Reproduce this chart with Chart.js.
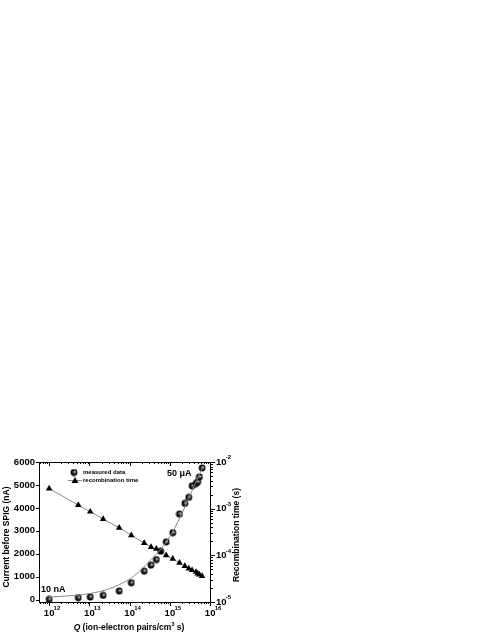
<!DOCTYPE html>
<html>
<head>
<meta charset="utf-8">
<script src="https://cdn.jsdelivr.net/npm/chart.js@4.4.1/dist/chart.umd.min.js"></script>
<style>
    html, body { margin: 0; padding: 0; background: #fff; }
</style>
</head>
<body>
<canvas id="chart" width="491" height="635"></canvas>
<script>
// ===== Data =====
// Q in ion-electron pairs / cm^3 s
const qValues = [1.0e12, 5.3e12, 1.05e13, 2.2e13, 5.5e13, 1.1e14, 2.3e14, 3.4e14, 4.6e14, 5.9e14,
                 8.1e14, 1.18e15, 1.73e15, 2.35e15, 2.95e15, 3.57e15, 4.47e15, 4.9e15, 5.4e15, 6.3e15];
// current before SPIG (nA)
const currentValues = [12, 87, 117, 187, 377, 738, 1245, 1505, 1748, 2113,
                       2516, 2920, 3731, 4195, 4456, 4959, 5063, 5132, 5349, 5740];
// recombination time (s)
const recombValues = [2.7e-3, 1.19e-3, 8.6e-4, 6.0e-4, 3.9e-4, 2.69e-4, 1.84e-4, 1.51e-4, 1.38e-4, 1.22e-4,
                      1.0e-4, 8.4e-5, 6.9e-5, 5.9e-5, 5.2e-5, 4.8e-5, 4.4e-5, 4.07e-5, 3.88e-5, 3.59e-5];
// fitted curve through the measured current
const fitQ = [1e12, 3.16e12, 1e13, 3.16e13, 1e14, 1.78e14, 3.16e14, 5.62e14, 1e15, 1.78e15, 3.16e15, 6.3e15];
const fitI = [115, 170, 265, 480, 900, 1250, 1700, 2150, 2750, 3580, 4550, 5720];

const xTickExps = ["12", "13", "14", "15", "16"];
const yTicksLeft = [0, 1000, 2000, 3000, 4000, 5000, 6000];
const yTickExpsRight = ["-2", "-3", "-4", "-5"];

const FONT = '"Liberation Sans", Arial, sans-serif';
const BASE_FONT = "bold 9.5px " + FONT;
const EXP_FONT = "bold 6px " + FONT;

// ===== shaded sphere marker =====
function makeSphere(r) {
    const c = document.createElement("canvas");
    const s = Math.ceil(r * 2) + 1;
    c.width = s; c.height = s;
    const g = c.getContext("2d");
    const grad = g.createRadialGradient(s / 2 + r * 0.3, s / 2 - r * 0.25, 0.2, s / 2, s / 2, r);
    grad.addColorStop(0, "#e6e6e6");
    grad.addColorStop(0.3, "#5a5a5a");
    grad.addColorStop(0.65, "#111");
    grad.addColorStop(1, "#000");
    g.fillStyle = grad;
    g.beginPath();
    g.arc(s / 2, s / 2, r, 0, Math.PI * 2);
    g.fill();
    return c;
}
const sphere = makeSphere(3.4);

function pts(xs, ys) {
    return xs.map((x, i) => ({ x: x, y: ys[i] }));
}

// "10" with a superscript exponent
function drawPow(ctx, exp, x, y, centered) {
    ctx.font = BASE_FONT;
    ctx.textAlign = "left";
    ctx.textBaseline = "middle";
    const wb = ctx.measureText("10").width;
    const x0 = centered ? x - wb / 2 : x;
    ctx.fillText("10", x0, y);
    ctx.font = EXP_FONT;
    ctx.fillText(exp, x0 + wb - 0.8, y - 4.3);
}

// ===============================
// FRAME, TICKS, LABELS, LEGEND
// ===============================
const decorPlugin = {
    id: "decor",
    afterDraw(chart) {
        const ctx = chart.ctx;
        const a = chart.chartArea;
        const sx = chart.scales.x, sy = chart.scales.y, sr = chart.scales.y1;
        ctx.save();
        ctx.strokeStyle = "#000";
        ctx.fillStyle = "#000";
        ctx.lineWidth = 1;
        ctx.strokeRect(a.left + 0.5, a.top + 0.5, a.right - a.left - 1, a.bottom - a.top);

        // x ticks (bottom out, top in)
        ctx.beginPath();
        for (let e = 11; e <= 16; e++) {
            for (let m = 1; m <= 9; m++) {
                const v = m * Math.pow(10, e);
                if (v < sx.min || v > sx.max) continue;
                const px = Math.round(sx.getPixelForValue(v)) + 0.5;
                const len = m === 1 ? 4 : 2;
                ctx.moveTo(px, a.bottom); ctx.lineTo(px, a.bottom + len);
                ctx.moveTo(px, a.top); ctx.lineTo(px, a.top + len);
            }
        }
        // left ticks
        yTicksLeft.forEach(v => {
            const py = Math.round(sy.getPixelForValue(v)) + 0.5;
            ctx.moveTo(a.left - 3, py); ctx.lineTo(a.left, py);
        });
        // right ticks (log)
        for (let e = -5; e <= -2; e++) {
            for (let m = 1; m <= 9; m++) {
                const v = m * Math.pow(10, e);
                if (v < sr.min || v > sr.max * 1.0001) continue;
                const py = Math.round(sr.getPixelForValue(v)) + 0.5;
                const len = m === 1 ? 4 : 2;
                ctx.moveTo(a.right, py); ctx.lineTo(a.right + len, py);
            }
        }
        ctx.stroke();

        // tick labels
        xTickExps.forEach(ex => {
            const px = sx.getPixelForValue(Math.pow(10, +ex));
            drawPow(ctx, ex, px, 613, true);
        });
        ctx.font = BASE_FONT;
        ctx.textAlign = "right";
        ctx.textBaseline = "middle";
        yTicksLeft.forEach(v => {
            ctx.fillText(String(v), a.left - 4, sy.getPixelForValue(v));
        });
        yTickExpsRight.forEach(ex => {
            const py = sr.getPixelForValue(Math.pow(10, +ex));
            drawPow(ctx, ex, a.right + 5, py, false);
        });

        // axis titles
        ctx.font = "bold 8.5px " + FONT;
        ctx.textAlign = "center";
        ctx.textBaseline = "middle";
        ctx.save();
        ctx.translate(7, 537);
        ctx.rotate(-Math.PI / 2);
        ctx.fillText("Current before SPIG (nA)", 0, 0);
        ctx.restore();
        ctx.save();
        ctx.translate(237, 535);
        ctx.rotate(-Math.PI / 2);
        ctx.fillText("Recombination time (s)", 0, 0);
        ctx.restore();

        // x title: Q (ion-electron pairs/cm^3 s)
        const f = "bold 8.5px " + FONT;
        const fi = "italic bold 8.5px " + FONT;
        const fs = "bold 5.5px " + FONT;
        const parts = [
            [fi, "Q", 0], [f, " (ion-electron pairs/cm", 0], [fs, "3", -3.5], [f, " s)", 0]
        ];
        let total = 0;
        parts.forEach(p => { ctx.font = p[0]; total += ctx.measureText(p[1]).width; });
        let cx = 129 - total / 2;
        ctx.textAlign = "left";
        parts.forEach(p => {
            ctx.font = p[0];
            ctx.fillText(p[1], cx, 628 + p[2]);
            cx += ctx.measureText(p[1]).width;
        });

        // annotations
        ctx.font = "bold 9px " + FONT;
        ctx.fillText("50 \u03bcA", 167, 474);
        ctx.fillText("10 nA", 41, 590);

        // legend
        ctx.drawImage(sphere, 74 - sphere.width / 2, 472.5 - sphere.height / 2);
        ctx.strokeStyle = "#888";
        ctx.beginPath();
        ctx.moveTo(68, 480.5); ctx.lineTo(82, 480.5);
        ctx.stroke();
        ctx.fillStyle = "#000";
        ctx.beginPath();
        ctx.moveTo(75, 477); ctx.lineTo(78.5, 483); ctx.lineTo(71.5, 483);
        ctx.closePath();
        ctx.fill();
        ctx.font = "bold 6px " + FONT;
        ctx.fillText("measured data", 83, 472.5);
        ctx.fillText("recombination time", 83, 480.5);
        ctx.restore();
    }
};

// ===============================
// CHART
// ===============================
const ctx = document.getElementById("chart").getContext("2d");

new Chart(ctx, {
    type: "line",
    data: {
        datasets: [
            {
                label: "fit",
                data: pts(fitQ, fitI),
                yAxisID: "y",
                borderColor: "#8a8a8a",
                borderWidth: 1,
                pointRadius: 0,
                cubicInterpolationMode: "monotone",
                fill: false
            },
            {
                label: "recombination time",
                data: pts(qValues, recombValues),
                yAxisID: "y1",
                borderColor: "#8a8a8a",
                borderWidth: 1,
                pointStyle: "triangle",
                pointRadius: 3.8,
                pointBackgroundColor: "#000",
                pointBorderColor: "#000",
                pointBorderWidth: 0,
                fill: false
            },
            {
                label: "measured data",
                data: pts(qValues, currentValues),
                yAxisID: "y",
                showLine: false,
                pointStyle: sphere,
                pointRadius: 3.4
            }
        ]
    },
    options: {
        responsive: false,
        devicePixelRatio: 1,
        animation: false,
        layout: { padding: { top: 462, left: 0, right: 0, bottom: 0 } },
        plugins: {
            legend: { display: false },
            tooltip: { enabled: false }
        },
        scales: {
            x: {
                type: "logarithmic",
                min: 5.6e11,
                max: 1.05e16,
                grid: { display: false },
                border: { display: false },
                ticks: { display: false },
                afterFit: s => { s.height = 33; }
            },
            y: {
                position: "left",
                min: -100,
                max: 6000,
                grid: { display: false },
                border: { display: false },
                ticks: { display: false },
                afterFit: s => { s.width = 39; }
            },
            y1: {
                type: "logarithmic",
                position: "right",
                min: 1e-5,
                max: 1e-2,
                grid: { display: false },
                border: { display: false },
                ticks: { display: false },
                afterFit: s => { s.width = 280; }
            }
        }
    },
    plugins: [decorPlugin]
});
</script>
</body>
</html>
